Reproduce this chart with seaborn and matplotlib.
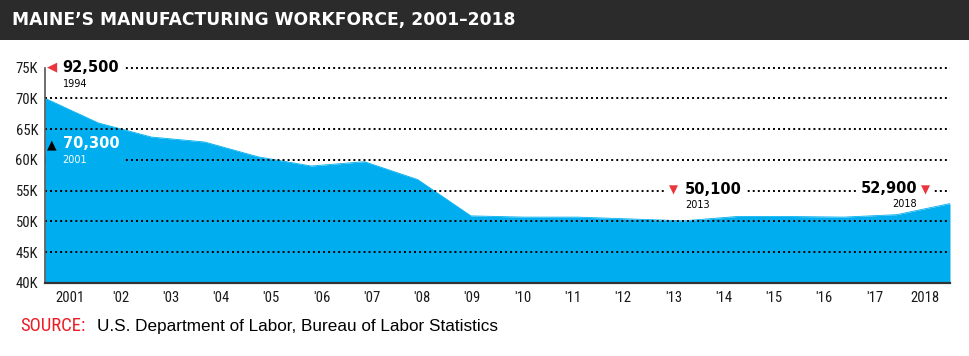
import numpy as np
import pandas as pd
import seaborn as sns
import matplotlib.pyplot as plt
from matplotlib import font_manager
from matplotlib.patches import Rectangle

# data (thousands of workers)
years = list(range(2001, 2019))
workers_k = [70.0, 66.0, 63.7, 62.9, 60.5, 59.0, 59.7, 56.8, 50.9, 50.7,
             50.7, 50.4, 50.1, 50.8, 50.8, 50.7, 51.1, 52.9]
tick_labels = ['2001', "'02", "'03", "'04", "'05", "'06", "'07", "'08", "'09",
               "'10", "'11", "'12", "'13", "'14", "'15", "'16", "'17", '2018']
y_ticks = [40, 45, 50, 55, 60, 65, 70, 75]
y_labels = ['40K', '45K', '50K', '55K', '60K', '65K', '70K', '75K']

peak_label, peak_year = '92,500', '1994'
start_label, start_year = '70,300', '2001'
low_label, low_year = '50,100', '2013'
end_label, end_year = '52,900', '2018'

BLUE = '#00aeef'
RED = '#e8363c'
DARK = '#2b2b2b'

installed = {f.name for f in font_manager.fontManager.ttflist}
narrow = 'Liberation Sans'
for cand in ['Liberation Sans Narrow', 'Roboto Condensed', 'DejaVu Sans Condensed']:
    if cand in installed:
        narrow = cand
        break

sns.set_style('white')
plt.rcParams['font.family'] = ['DejaVu Sans']

df = pd.DataFrame({'year': years, 'workers': workers_k})

fig = plt.figure(figsize=(9.7, 3.56), dpi=100)
ax = fig.add_axes([45 / 970, (356 - 283) / 356, 905 / 970, (283 - 67.5) / 356])

ax.fill_between(df['year'], 40, df['workers'], color=BLUE, lw=0, zorder=1)
sns.lineplot(data=df, x='year', y='workers', ax=ax, color=BLUE, lw=0.6, zorder=1)

ax.set_xlim(years[0], years[-1])
ax.set_ylim(40, 75)
ax.set_xlabel('')
ax.set_ylabel('')

# year labels sit in the middle of 18 equal slots across the width
n = len(years)
tick_pos = years[0] + (np.arange(n) + 0.5) * (years[-1] - years[0]) / n
ax.set_xticks(tick_pos)
ax.set_xticklabels(tick_labels, fontfamily=narrow, fontsize=10.5, color='#1a1a1a')
ax.set_yticks(y_ticks)
ax.set_yticklabels(y_labels, fontfamily=narrow, fontsize=10.5, color='#1a1a1a')
ax.tick_params(axis='both', length=0)
ax.tick_params(axis='x', pad=6)
ax.tick_params(axis='y', pad=5)

ax.set_axisbelow(False)
ax.yaxis.grid(True, color='black', lw=1.4, linestyle=(0, (1, 1.6)))
ax.xaxis.grid(False)
for gl in ax.yaxis.get_gridlines():
    gl.set_clip_on(False)

for s in ['top', 'right']:
    ax.spines[s].set_visible(False)
ax.spines['bottom'].set_color('#333333')
ax.spines['bottom'].set_linewidth(1.6)
ax.spines['left'].set_color('#555555')
ax.spines['left'].set_linewidth(1.2)
for s in ['bottom', 'left']:
    ax.spines[s].set_zorder(6)

white_box = dict(boxstyle='square,pad=0.3', fc='white', ec='none')

# 1994 peak (off the scale)
ax.text(2001.14, 75.1, '\u25c0', color=RED, fontsize=9.5, ha='center', va='center',
        bbox=white_box, zorder=4)
ax.text(2001.33, 75.0, peak_label, fontsize=10.5, fontweight='bold', color='black',
        ha='left', va='center', bbox=white_box, zorder=4)
ax.text(2001.33, 72.4, peak_year, fontsize=7, color='black', ha='left', va='center', zorder=4)

# 2001 start
ax.add_patch(Rectangle((2001, 59.5), 1.46, 1.0, fc=BLUE, ec='none', zorder=3))
ax.text(2001.13, 62.4, '\u25b2', color='black', fontsize=9, ha='center', va='center', zorder=4)
ax.text(2001.33, 62.7, start_label, fontsize=10.5, fontweight='bold', color='white',
        ha='left', va='center', zorder=4)
ax.text(2001.33, 60.0, start_year, fontsize=7, color='white', ha='left', va='center', zorder=4)

# 2013 low
ax.text(2012.81, 55.1, '\u25bc', color=RED, fontsize=8.5, ha='center', va='center',
        bbox=white_box, zorder=4)
ax.text(2013.02, 55.2, low_label, fontsize=10.5, fontweight='bold', color='black',
        ha='left', va='center', bbox=white_box, zorder=4)
ax.text(2013.02, 52.6, low_year, fontsize=7, color='black', ha='left', va='center', zorder=4)

# 2018 end
ax.text(2017.38, 55.4, end_label, fontsize=10.5, fontweight='bold', color='black',
        ha='right', va='center', bbox=white_box, zorder=4)
ax.text(2017.53, 55.1, '\u25bc', color=RED, fontsize=8.5, ha='center', va='center',
        bbox=white_box, zorder=4)
ax.text(2017.38, 52.9, end_year, fontsize=7, color='black', ha='right', va='center', zorder=4)

# title bar
fig.patches.append(Rectangle((0, 1 - 40 / 356), 1, 40 / 356, transform=fig.transFigure,
                             fc=DARK, ec='none', zorder=0))
fig.text(12 / 970, 1 - 20 / 356, 'MAINE\u2019S MANUFACTURING WORKFORCE, 2001\u20132018',
         color='white', fontsize=12.3, fontweight='bold', ha='left', va='center')

# source line
fig.text(20 / 970, 1 - 326 / 356, 'SOURCE:', color='#ed1c24', fontsize=13.5,
         fontfamily=narrow, ha='left', va='center')
fig.text(97 / 970, 1 - 326 / 356, 'U.S. Department of Labor, Bureau of Labor Statistics',
         color='black', fontsize=12.3, fontfamily='Liberation Sans', ha='left', va='center')

fig.savefig('out.png', dpi=100)
